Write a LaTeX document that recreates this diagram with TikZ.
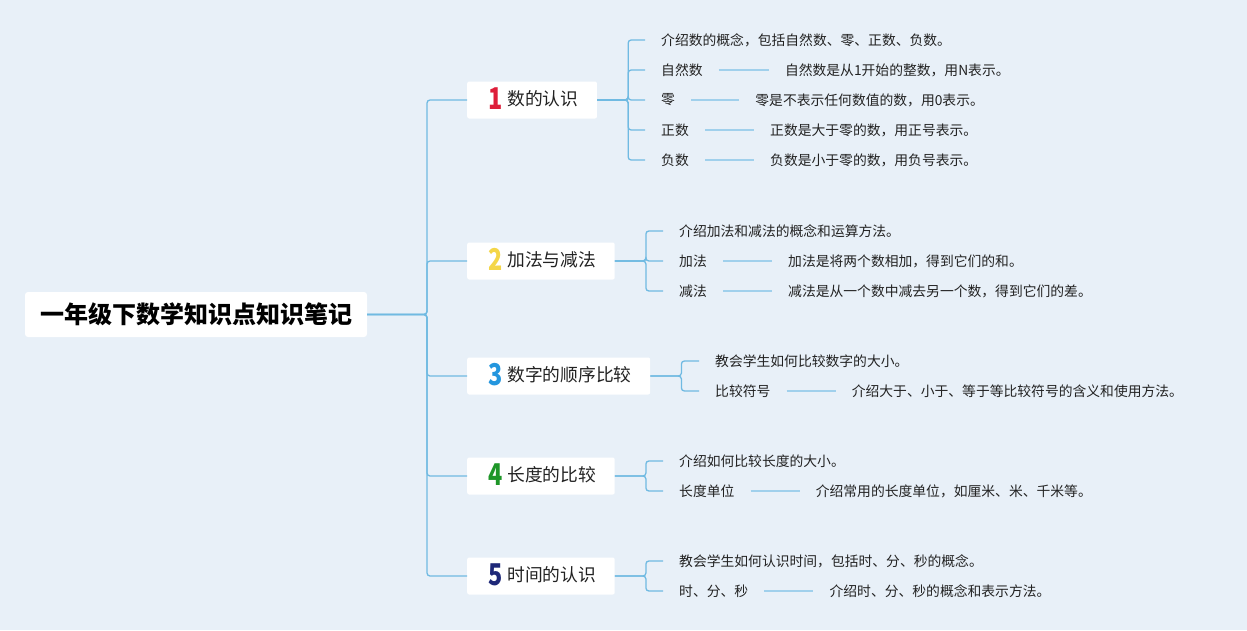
\documentclass[tikz,border=0pt]{standalone}
\usepackage{graphicx}
\usepackage{fontspec}
\setmainfont{Noto Sans CJK SC}
\usetikzlibrary{positioning,calc}
\definecolor{bg}{RGB}{232,240,248}
\definecolor{connc}{RGB}{112,186,226}
\definecolor{leafc}{RGB}{160,208,236}
\definecolor{txt}{RGB}{34,34,34}
\definecolor{n1}{RGB}{222,30,58}
\definecolor{n2}{RGB}{244,214,72}
\definecolor{n3}{RGB}{36,150,222}
\definecolor{n4}{RGB}{30,150,40}
\definecolor{n5}{RGB}{30,40,120}
\newcommand\bnum[2]{\hspace*{21pt}\raisebox{-4pt}{\smash{\textcolor{#1}{\scalebox{0.78}[1]{\fontsize{30}{30}\selectfont\bfseries #2}}}}\hspace{5pt}}
\begin{document}
\begin{tikzpicture}[x=1pt,y=-1pt,
  rootbox/.style={fill=white,rounded corners=3pt,minimum width=342pt,minimum height=45pt,inner sep=0pt,text=black,font=\fontsize{24}{28}\selectfont\bfseries},
  branch/.style={fill=white,rounded corners=2pt,minimum height=37pt,inner xsep=0pt,inner ysep=0pt,anchor=west,text=txt,font=\fontsize{17.75}{20}\selectfont},
  leaf/.style={inner sep=0pt,anchor=west,text=txt,font=\fontsize{13.8}{16}\selectfont},
  conn/.style={draw=connc,line width=1.3pt,rounded corners=3pt},
  lline/.style={draw=leafc,line width=1.3pt,shorten <=16pt,shorten >=16pt}]
\fill[bg] (0,0) rectangle (1247,630);
\useasboundingbox (0,0) rectangle (1247,630);

% root
\node[rootbox] (root) at (196,314.5) {一年级下数学知识点知识笔记};

% branches
\node[branch] (b1) at (467,100) {\bnum{n1}{1}数的认识\hspace*{18.5pt}};
\node[branch] (b2) at (467,261) {\bnum{n2}{2}加法与减法\hspace*{18.5pt}};
\node[branch] (b3) at (467,376) {\bnum{n3}{3}数字的顺序比较\hspace*{18.5pt}};
\node[branch] (b4) at (467,476) {\bnum{n4}{4}长度的比较\hspace*{18.5pt}};
\node[branch] (b5) at (467,576) {\bnum{n5}{5}时间的认识\hspace*{18.5pt}};

\coordinate (trunk) at (427,314.5);
\foreach \b in {b1,b2,b3,b4,b5}
  \draw[conn] (root.east) -- (trunk) |- (\b.west);

% branch 1 leaves
\node[leaf] (l11) at (661,40) {介绍数的概念，包括自然数、零、正数、负数。};
\node[leaf] (l12) at (661,70) {自然数};
\node[leaf,right=82pt of l12] (d12) {自然数是从1开始的整数，用N表示。};
\node[leaf] (l13) at (661,100) {零};
\node[leaf,right=80pt of l13] (d13) {零是不表示任何数值的数，用0表示。};
\node[leaf] (l14) at (661,130) {正数};
\node[leaf,right=81pt of l14] (d14) {正数是大于零的数，用正号表示。};
\node[leaf] (l15) at (661,160) {负数};
\node[leaf,right=81pt of l15] (d15) {负数是小于零的数，用负号表示。};
\foreach \c in {l11,l12,l13,l14,l15}
  \draw[conn] (b1.east) -- ++(31,0) |- ($(\c.west)+(-16,0)$);
\foreach \a/\d in {l12/d12,l13/d13,l14/d14,l15/d15}
  \draw[lline] (\a) -- (\d);

% branch 2 leaves
\node[leaf] (l21) at (679,231) {介绍加法和减法的概念和运算方法。};
\node[leaf] (l22) at (679,261) {加法};
\node[leaf,right=81pt of l22] (d22) {加法是将两个数相加，得到它们的和。};
\node[leaf] (l23) at (679,291) {减法};
\node[leaf,right=81pt of l23] (d23) {减法是从一个数中减去另一个数，得到它们的差。};
\foreach \c in {l21,l22,l23}
  \draw[conn] (b2.east) -- ++(31,0) |- ($(\c.west)+(-16,0)$);
\foreach \a/\d in {l22/d22,l23/d23}
  \draw[lline] (\a) -- (\d);

% branch 3 leaves
\node[leaf] (l31) at (715,361) {教会学生如何比较数字的大小。};
\node[leaf] (l32) at (715,391) {比较符号};
\node[leaf,right=81pt of l32] (d32) {介绍大于、小于、等于等比较符号的含义和使用方法。};
\foreach \c in {l31,l32}
  \draw[conn] (b3.east) -- ++(31,0) |- ($(\c.west)+(-16,0)$);
\draw[lline] (l32) -- (d32);

% branch 4 leaves
\node[leaf] (l41) at (679,461) {介绍如何比较长度的大小。};
\node[leaf] (l42) at (679,491) {长度单位};
\node[leaf,right=81pt of l42] (d42) {介绍常用的长度单位，如厘米、米、千米等。};
\foreach \c in {l41,l42}
  \draw[conn] (b4.east) -- ++(31,0) |- ($(\c.west)+(-16,0)$);
\draw[lline] (l42) -- (d42);

% branch 5 leaves
\node[leaf] (l51) at (679,561) {教会学生如何认识时间，包括时、分、秒的概念。};
\node[leaf] (l52) at (679,591) {时、分、秒};
\node[leaf,right=81pt of l52] (d52) {介绍时、分、秒的概念和表示方法。};
\foreach \c in {l51,l52}
  \draw[conn] (b5.east) -- ++(31,0) |- ($(\c.west)+(-16,0)$);
\draw[lline] (l52) -- (d52);
\end{tikzpicture}
\end{document}
